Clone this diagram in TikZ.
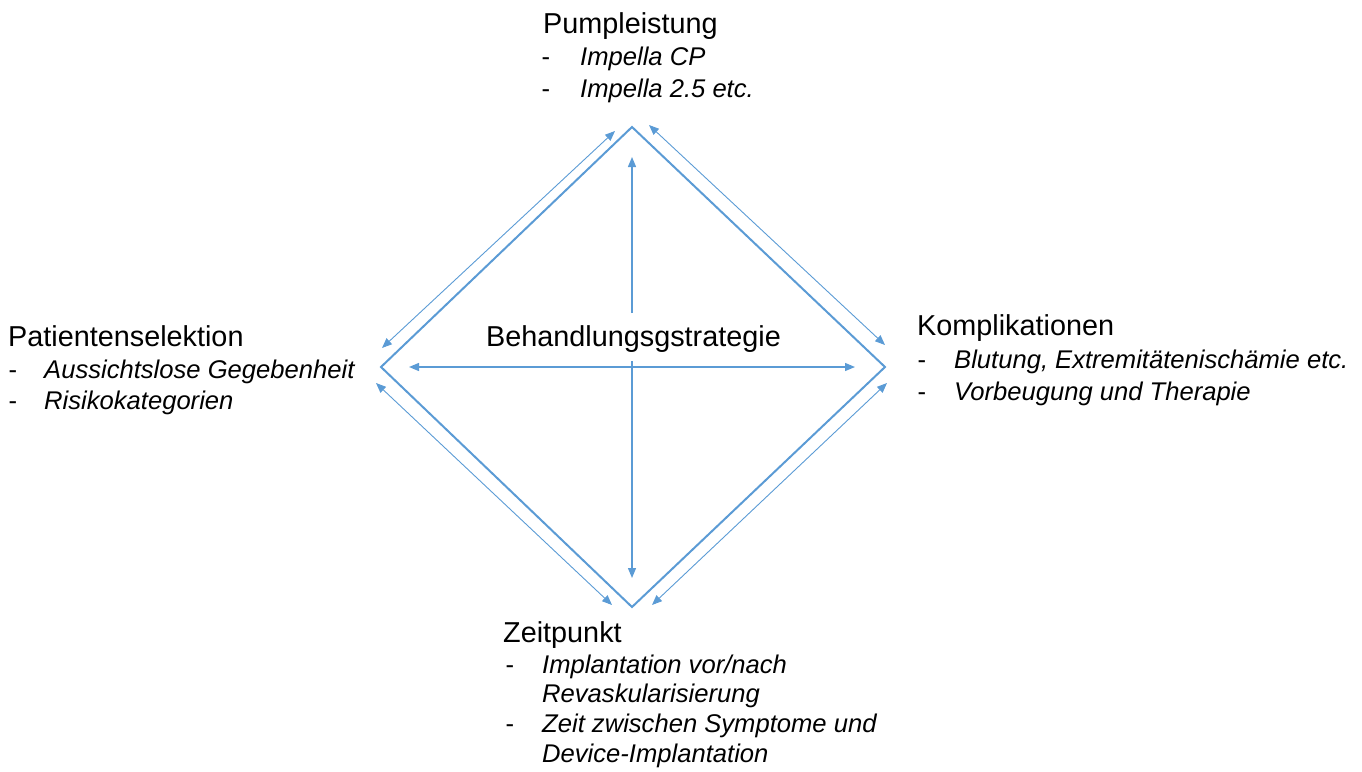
\documentclass[tikz,border=0pt]{standalone}
\usepackage{fontspec}
\setmainfont{Liberation Sans}
\usetikzlibrary{arrows.meta}
\definecolor{edgeblue}{RGB}{91,155,213}
\begin{document}
\begin{tikzpicture}[x=1pt,y=-1pt,
  ttl/.style={anchor=base west,inner sep=0pt,font=\fontsize{28.8}{30}\selectfont},
  itm/.style={anchor=base west,inner sep=0pt,font=\fontsize{25.6}{28}\selectfont\itshape},
  dsh/.style={anchor=base west,inner sep=0pt,font=\fontsize{25.6}{28}\selectfont},
  dia/.style={draw=edgeblue,line width=2pt,line join=miter},
  pairarrow/.style={draw=edgeblue,line width=0.9pt,{Triangle[length=10pt,width=8pt]}-{Triangle[length=10pt,width=8pt]}},
  midarrow/.style={draw=edgeblue,line width=1.3pt,-{Triangle[length=10pt,width=8pt]}}]
\useasboundingbox (0,0) rectangle (1362,771);

% diamond vertices
\coordinate (T) at (632,127);
\coordinate (L) at (381,367);
\coordinate (R) at (885,367);
\coordinate (B) at (632,607);
\draw[dia] (T) -- (R) -- (B) -- (L) -- cycle;

% outer double arrows
\coordinate (tl1) at (615,131); \coordinate (tl2) at (382,348);
\coordinate (tr1) at (649,125); \coordinate (tr2) at (885,345);
\coordinate (bl1) at (376,383); \coordinate (bl2) at (612,605);
\coordinate (br1) at (887,383); \coordinate (br2) at (652,605);
\draw[pairarrow] (tl1) -- (tl2);
\draw[pairarrow] (tr1) -- (tr2);
\draw[pairarrow] (bl1) -- (bl2);
\draw[pairarrow] (br1) -- (br2);

% central arrows
\coordinate (cu0) at (632,313); \coordinate (cu1) at (632,157);
\coordinate (cd0) at (632,361); \coordinate (cd1) at (632,578);
\coordinate (hl) at (409,367); \coordinate (hr) at (855,367);
\draw[midarrow] (cu0) -- (cu1);
\draw[midarrow] (cd0) -- (cd1);
\draw[midarrow,{Triangle[length=10pt,width=8pt]}-{Triangle[length=10pt,width=8pt]}] (hl) -- (hr);

\node[ttl] (center) at (486,346) {Behandlungsgstrategie};

% Pumpleistung
\node[ttl] (pt) at (543,33) {Pumpleistung};
\node[dsh] (pd1) at (541.5,65) {-};
\node[itm] (pi1) at (580,65) {Impella CP};
\node[dsh] (pd2) at (541.5,97) {-};
\node[itm] (pi2) at (580,97) {Impella 2.5 etc.};

% Patientenselektion
\node[ttl] (st) at (8,346) {Patientenselektion};
\node[dsh] (sd1) at (8.5,378) {-};
\node[itm] (si1) at (44,378) {Aussichtslose Gegebenheit};
\node[dsh] (sd2) at (8.5,409) {-};
\node[itm] (si2) at (44,409) {Risikokategorien};

% Komplikationen
\node[ttl] (kt) at (917,335) {Komplikationen};
\node[dsh] (kd1) at (917.5,368) {-};
\node[itm] (ki1) at (954,368) {Blutung, Extremitätenischämie etc.};
\node[dsh] (kd2) at (917.5,400) {-};
\node[itm] (ki2) at (954,400) {Vorbeugung und Therapie};

% Zeitpunkt
\node[ttl] (zt) at (503,642) {Zeitpunkt};
\node[dsh] (zd1) at (505.5,673) {-};
\node[itm] (zi1) at (542,673) {Implantation vor/nach};
\node[itm] (zi1b) at (542,702) {Revaskularisierung};
\node[dsh] (zd2) at (505.5,732) {-};
\node[itm] (zi2) at (542,732) {Zeit zwischen Symptome und};
\node[itm] (zi2b) at (542,762) {Device-Implantation};
\end{tikzpicture}
\end{document}
